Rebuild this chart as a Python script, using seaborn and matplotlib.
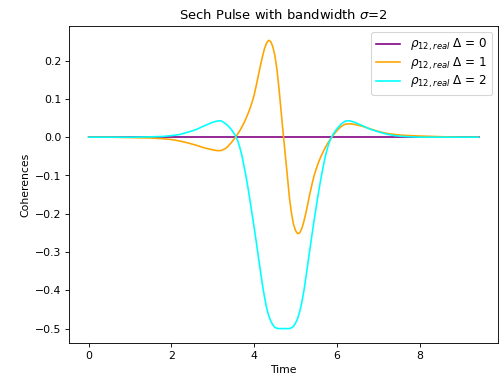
import numpy as np
import pandas as pd
import matplotlib

matplotlib.use('Agg')
import matplotlib.pyplot as plt
import seaborn as sns

# time samples (denser around the pulse)
time = [0.0, 0.5, 1.0, 1.5, 1.8, 2.0, 2.2, 2.4, 2.6, 2.8, 3.0, 3.1, 3.2, 3.3,
        3.35, 3.4, 3.45, 3.5, 3.55, 3.6, 3.65, 3.7, 3.75, 3.8, 3.85, 3.9, 3.95,
        4.0, 4.05, 4.1, 4.15, 4.2, 4.25, 4.3, 4.35, 4.4, 4.45, 4.5, 4.55, 4.6, 4.65, 4.7, 4.75,
        4.8, 4.85, 4.9, 4.95, 5.0, 5.05, 5.1, 5.15, 5.2, 5.25, 5.3, 5.35, 5.4, 5.45, 5.5, 5.55,
        5.6, 5.65, 5.7, 5.75, 5.8, 5.85, 5.9,
        6.0, 6.1, 6.2, 6.3, 6.4, 6.6, 6.8, 7.0, 7.2, 7.4, 7.6, 7.8, 8.0, 8.3, 8.6, 9.0, 9.42]

# Delta = 0
rho_d0 = [0.0] * len(time)

# Delta = 1
rho_d1 = [0.0, 0.0, -0.001, -0.002, -0.004, -0.006, -0.010, -0.015, -0.021, -0.028, -0.033, -0.035, -0.035, -0.030,
          -0.026, -0.020, -0.014, -0.007, 0.000, 0.008, 0.016, 0.026, 0.036, 0.048, 0.061, 0.075, 0.091,
          0.110, 0.134, 0.160, 0.186, 0.210, 0.231, 0.246, 0.253, 0.250, 0.237, 0.214, 0.178, 0.128, 0.070, 0.012, -0.043,
          -0.098, -0.155, -0.197, -0.227, -0.244, -0.252, -0.250, -0.239, -0.221, -0.198, -0.172, -0.146, -0.122, -0.100, -0.083, -0.067,
          -0.054, -0.042, -0.031, -0.021, -0.012, -0.004, 0.004,
          0.017, 0.028, 0.034, 0.035, 0.034, 0.029, 0.022, 0.015, 0.010, 0.007, 0.005, 0.004, 0.003, 0.002, 0.001, 0.0, 0.0]

# Delta = 2
rho_d2 = [0.0, 0.0, 0.0, 0.001, 0.002, 0.004, 0.007, 0.013, 0.020, 0.030, 0.039, 0.042, 0.043, 0.036,
          0.032, 0.026, 0.020, 0.012, 0.004, -0.008, -0.025, -0.046, -0.072, -0.100, -0.131, -0.165, -0.200,
          -0.235, -0.272, -0.310, -0.348, -0.385, -0.417, -0.445, -0.465, -0.480, -0.490, -0.497, -0.499, -0.500, -0.500, -0.500, -0.500,
          -0.500, -0.500, -0.498, -0.494, -0.486, -0.474, -0.456, -0.433, -0.403, -0.367, -0.329, -0.291, -0.253, -0.217, -0.182, -0.148,
          -0.116, -0.087, -0.060, -0.037, -0.018, -0.004, 0.006,
          0.022, 0.034, 0.042, 0.043, 0.040, 0.031, 0.021, 0.014, 0.008, 0.004, 0.002, 0.001, 0.0, 0.0, 0.0, 0.0, 0.0]

labels = [r'$\rho_{12,real}$ $\Delta$ = 0', r'$\rho_{12,real}$ $\Delta$ = 1', r'$\rho_{12,real}$ $\Delta$ = 2']
colors = ['purple', 'orange', 'cyan']

fig, ax = plt.subplots(figsize=(6.4, 4.858), dpi=78.44)
fig.subplots_adjust(left=0.1375, right=0.992, bottom=0.0997, top=0.9318)

for vals, lab, col in zip([rho_d0, rho_d1, rho_d2], labels, colors):
    df = pd.DataFrame({'Time': time, 'rho': vals})
    sns.lineplot(data=df, x='Time', y='rho', color=col, label=lab, ax=ax, estimator=None)

ax.set_title(r'Sech Pulse with bandwidth $\sigma$=2')
ax.set_xlabel('Time')
ax.set_ylabel('Coherences')
ax.legend(loc='upper right', fontsize=11, labelspacing=0.2)

plt.savefig('out.png', dpi=78.44)
